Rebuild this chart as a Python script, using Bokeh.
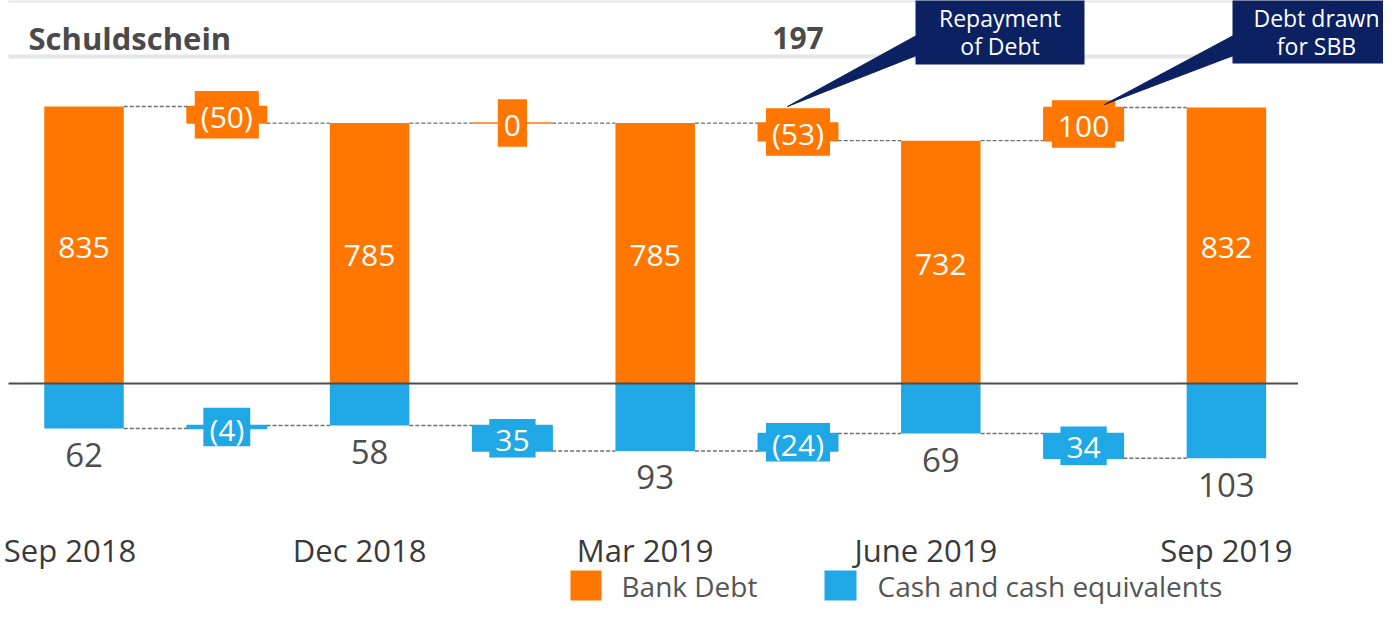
from bokeh.plotting import figure
from bokeh.models import Range1d
from bokeh.core.properties import value
from bokeh.embed import file_html
from bokeh.resources import INLINE

# ---------------- data ----------------
periods = ["Sep 2018", "Dec 2018", "Mar 2019", "June 2019", "Sep 2019"]
bank_debt = [835, 785, 785, 732, 832]
debt_changes = [-50, 0, -53, 100]
cash = [62, 58, 93, 69, 103]
cash_changes = [-4, 35, -24, 34]
header_label = "Schuldschein"
header_value = "197"
callout_texts = [["Repayment", "of Debt"], ["Debt drawn", "for SBB"]]
legend_labels = ["Bank Debt", "Cash and cash equivalents"]

# ---------------- style ----------------
ORANGE = "#ff7700"
BLUE = "#20a8e6"
NAVY = "#0b2161"
GREY_TXT = "#4d4d4d"
FONT = value("Open Sans")

W, H = 1383, 617
SX0, DX = 91.5, 142.8      # screen px of first column, px per column step
SY0 = 391.0                # screen px of zero line
KY = 0.33174               # px per unit of bank debt
KC = 0.725                 # px per unit of cash


def X(sx):
    return (sx - SX0) / DX


def Y(sy):
    return (SY0 - sy) / KY


def C(sy):
    return (SY0 - sy) / KC


p = figure(width=W, height=H, output_backend="svg", toolbar_location=None,
           x_range=Range1d(X(8), X(8 + W)), y_range=Range1d(Y(8 + H), Y(8)),
           min_border=0, x_axis_location=None, y_axis_location=None,
           outline_line_color=None)
p.extra_y_ranges = {"cash": Range1d(C(8 + H), C(8))}
p.grid.visible = False
p.background_fill_color = "white"
p.border_fill_color = "white"

tot_x = [2 * i for i in range(len(periods))]
d_x = [2 * i + 1 for i in range(len(debt_changes))]
BW = 79.5 / DX


def fmt(v):
    return f"({abs(v)})" if v < 0 else str(v)


def tw(s, fs):
    return fs * sum(0.296 if ch in "()" else 0.572 for ch in s)


# header
p.quad(left=X(16), right=X(1338), top=Y(6), bottom=Y(10), fill_color="#e5e6e7", line_color=None)
p.quad(left=X(16), right=X(1338), top=Y(62), bottom=Y(66), fill_color="#e5e6e7", line_color=None)
p.text(x=[X(36)], y=[Y(45)], text=[header_label], text_font=FONT, text_font_size="31px",
       text_font_style="bold", text_color="#4a4a4a", text_align="left", text_baseline="alphabetic")
p.text(x=[d_x[2]], y=[Y(45)], text=[header_value], text_font=FONT, text_font_size="30px",
       text_font_style="bold", text_color="#4a4a4a", text_align="center", text_baseline="alphabetic")

# total bars
p.vbar(x=tot_x, top=bank_debt, bottom=0, width=BW, fill_color=ORANGE, line_color=None)
p.vbar(x=tot_x, top=0, bottom=[-c for c in cash], width=BW, fill_color=BLUE, line_color=None,
       y_range_name="cash")

# delta floating bars
d_start = bank_debt[:-1]
d_end = [s + d for s, d in zip(d_start, debt_changes)]
c_start = cash[:-1]
c_end = [s + d for s, d in zip(c_start, cash_changes)]
p.vbar(x=d_x, bottom=[min(a, b) for a, b in zip(d_start, d_end)],
       top=[max(a, b) for a, b in zip(d_start, d_end)], width=BW,
       fill_color=ORANGE, line_color=ORANGE, line_width=1.5)
p.vbar(x=d_x, bottom=[-max(a, b) for a, b in zip(c_start, c_end)],
       top=[-min(a, b) for a, b in zip(c_start, c_end)], width=BW,
       fill_color=BLUE, line_color=BLUE, line_width=1.5, y_range_name="cash")

# connectors
hw = BW / 2
debt_levels = []
cash_levels = []
for i in range(len(periods)):
    debt_levels.append(bank_debt[i])
    cash_levels.append(cash[i])
    if i < len(debt_changes):
        debt_levels.append(d_end[i])
        cash_levels.append(c_end[i])
xs_all = sorted(tot_x + d_x)
p.segment(x0=[x + hw for x in xs_all[:-1]], x1=[x - hw for x in xs_all[1:]],
          y0=debt_levels[:-1], y1=debt_levels[:-1],
          line_color="#707070", line_width=1.4, line_dash="4 2")
p.segment(x0=[x + hw for x in xs_all[:-1]], x1=[x - hw for x in xs_all[1:]],
          y0=[-v for v in cash_levels[:-1]], y1=[-v for v in cash_levels[:-1]],
          line_color="#707070", line_width=1.4, line_dash="4 2", y_range_name="cash")

# delta label boxes + labels
FS = 30
d_lab = [fmt(v) for v in debt_changes]
c_lab = [fmt(v) for v in cash_changes]
d_mid = [(a + b) / 2 for a, b in zip(d_start, d_end)]
c_mid = [-(a + b) / 2 for a, b in zip(c_start, c_end)]
p.rect(x=d_x, y=d_mid, width=[tw(s, FS) + 12 for s in d_lab], height=47.5,
       width_units="screen", height_units="screen", fill_color=ORANGE, line_color=None)
p.rect(x=d_x, y=c_mid, width=[tw(s, FS) + 12 for s in c_lab], height=38.5,
       width_units="screen", height_units="screen", fill_color=BLUE, line_color=None,
       y_range_name="cash")
p.text(x=d_x, y=[m - 2 / KY for m in d_mid], text=d_lab, text_font=FONT, text_font_size=f"{FS}px",
       text_color="white", text_align="center", text_baseline="middle")
p.text(x=d_x, y=[m - 2 / KC for m in c_mid], text=c_lab, text_font=FONT, text_font_size=f"{FS}px",
       text_color="white", text_align="center", text_baseline="middle", y_range_name="cash")

# total labels
p.text(x=tot_x, y=[v / 2 - 2.5 / KY for v in bank_debt], text=[str(v) for v in bank_debt],
       text_font=FONT, text_font_size="30px", text_color="white",
       text_align="center", text_baseline="middle")
p.text(x=tot_x, y=[-v - 26.5 / KC for v in cash], text=[str(v) for v in cash],
       text_font=FONT, text_font_size="33px", text_color=GREY_TXT,
       text_align="center", text_baseline="middle", y_range_name="cash")

# period labels
nudge_px = [-14, -10, -10, -15, 0]
p.text(x=[x + n / DX for x, n in zip(tot_x, nudge_px)], y=[Y(557)] * len(periods), text=periods,
       text_font=FONT, text_font_size="31px", text_color="#3a3a3a",
       text_align="center", text_baseline="alphabetic")

# zero line
p.segment(x0=[X(16)], x1=[X(1305.5)], y0=[0], y1=[0], line_color="#4d4d4d", line_width=2)

# callouts
boxes = [(923, 1092, 6, 72, (795, 114), 1007.5), (1240, 1410, 5, 71, (1112, 112), 1324)]
for (l, r, t, b, tip, tcx), lines in zip(boxes, callout_texts):
    p.patch(x=[X(tip[0]), X(l + 1), X(l + 1)], y=[Y(tip[1]), Y(43), Y(63)],
            fill_color=NAVY, line_color=NAVY, line_width=1)
    p.quad(left=X(l), right=X(r), top=Y(t), bottom=Y(b), fill_color=NAVY, line_color=None)
    p.text(x=[X(tcx)] * 2, y=[Y(25), Y(53)], text=lines, text_font=FONT, text_font_size="23px",
           text_color="white", text_align="center", text_baseline="middle")

# legend (raised so the text is not cut at the page bottom)
leg = [(578, 609, ORANGE, 629), (832, 864, BLUE, 885)]
for (l, r, col, tx), lab in zip(leg, legend_labels):
    p.quad(left=X(l), right=X(r), top=Y(578), bottom=Y(608), fill_color=col, line_color=None)
    p.text(x=[X(tx)], y=[Y(593)], text=[lab], text_font=FONT, text_font_size="28px",
           text_color="#555555", text_align="left", text_baseline="middle")

open("out.html", "w").write(file_html(p, INLINE))
